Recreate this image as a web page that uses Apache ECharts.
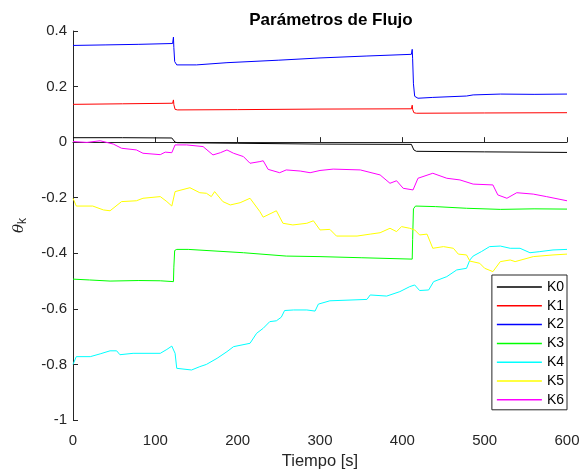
<!DOCTYPE html>
<html><head><meta charset="utf-8">
<script src="https://cdn.jsdelivr.net/npm/echarts@6/dist/echarts.min.js"></script>
<style>html,body{margin:0;padding:0;background:#fff}#c{width:582px;height:470px}</style>
</head><body><div id="c"></div>
<script>
const names = ['K0','K1','K2','K3','K4','K5','K6'];
const colors = ['#000000','#ff0000','#0000ff','#00ff00','#00ffff','#ffff00','#ff00ff'];
const xTicks = [0,100,200,300,400,500,600];
const yTicks = [-1,-0.8,-0.6,-0.4,-0.2,0,0.2,0.4];

const k0T = [0,60,120,122,124,127,200,300,411,412,414,417,500,600];
const k0V = [0.016,0.016,0.015,0.014,0.0,-0.002,-0.004,-0.007,-0.008,-0.010,-0.028,-0.033,-0.035,-0.037];

const k1T = [0,60,121,122,122.5,124,127,200,300,411,412,412.5,414,417,500,600];
const k1V = [0.136,0.138,0.140,0.152,0.135,0.118,0.116,0.117,0.119,0.120,0.133,0.118,0.106,0.104,0.105,0.106];

const k2T = [0,40,80,121,122,122.5,123.5,126,150,187,250,300,357,411,412,412.5,413.5,415,419,437,478,486,519,560,600];
const k2V = [0.348,0.350,0.352,0.355,0.378,0.34,0.29,0.278,0.278,0.286,0.295,0.303,0.310,0.316,0.334,0.30,0.21,0.165,0.158,0.161,0.166,0.170,0.173,0.172,0.173];

const k3T = [0,20,45,80,106,122,122.5,123.5,126,140,207,259,300,350,412,412.5,413.5,416,440,478,519,560,600];
const k3V = [-0.493,-0.496,-0.500,-0.498,-0.499,-0.502,-0.45,-0.39,-0.386,-0.386,-0.398,-0.410,-0.412,-0.416,-0.421,-0.35,-0.24,-0.230,-0.232,-0.238,-0.242,-0.240,-0.241];

const k4T = [0,4,21,33,45,53,57,73,106,114,120,124,126,144,154,162,175,187,195,215,223,231,239,247,253,257,268,284,294,298,312,357,361,381,397,409,415,421,432,438,454,466,478,482,486,496,506,519,531,543,555,567,583,600];
const k4V = [-0.800,-0.772,-0.772,-0.762,-0.751,-0.751,-0.765,-0.760,-0.760,-0.746,-0.734,-0.760,-0.814,-0.820,-0.808,-0.800,-0.778,-0.754,-0.736,-0.724,-0.688,-0.670,-0.646,-0.643,-0.630,-0.606,-0.604,-0.604,-0.608,-0.583,-0.571,-0.566,-0.550,-0.554,-0.538,-0.520,-0.514,-0.534,-0.532,-0.502,-0.484,-0.460,-0.454,-0.424,-0.410,-0.394,-0.376,-0.374,-0.382,-0.382,-0.398,-0.394,-0.388,-0.386];

const k5T = [0,4,24,37,45,59,77,85,106,114,120,124,142,154,162,168,172,182,191,203,215,227,231,247,255,267,284,292,300,312,320,345,361,373,385,393,399,409,415,421,430,437,450,462,468,478,482,494,500,510,519,531,537,559,583,600];
const k5V = [-0.202,-0.230,-0.230,-0.244,-0.247,-0.214,-0.211,-0.202,-0.196,-0.214,-0.230,-0.178,-0.164,-0.182,-0.184,-0.196,-0.178,-0.214,-0.226,-0.218,-0.202,-0.250,-0.270,-0.247,-0.292,-0.298,-0.292,-0.283,-0.316,-0.314,-0.338,-0.338,-0.331,-0.326,-0.310,-0.322,-0.304,-0.310,-0.316,-0.334,-0.331,-0.382,-0.376,-0.382,-0.403,-0.406,-0.428,-0.436,-0.454,-0.466,-0.430,-0.424,-0.430,-0.412,-0.406,-0.403];

const k6T = [0,17,33,49,59,77,85,106,112,120,124,138,158,170,179,187,195,207,215,227,231,237,251,259,276,288,300,316,349,373,385,393,401,413,419,437,454,470,486,510,516,527,539,559,575,600];
const k6V = [0.002,-0.001,0.005,-0.007,-0.022,-0.028,-0.040,-0.045,-0.036,-0.038,-0.010,-0.010,-0.016,-0.046,-0.038,-0.028,-0.040,-0.052,-0.076,-0.070,-0.067,-0.098,-0.110,-0.100,-0.104,-0.110,-0.102,-0.097,-0.100,-0.118,-0.148,-0.139,-0.166,-0.172,-0.130,-0.112,-0.130,-0.136,-0.151,-0.154,-0.190,-0.202,-0.182,-0.187,-0.196,-0.211];

const allT = [k0T,k1T,k2T,k3T,k4T,k5T,k6T];
const allV = [k0V,k1V,k2V,k3V,k4V,k5V,k6V];

const axisColor = '#262626';
const FONT = 'Liberation Sans, Arial, sans-serif';
const chart = echarts.init(document.getElementById('c'), null, {renderer:'canvas'});
chart.setOption({
  backgroundColor:'#ffffff',
  animation:false,
  title:{
    text:'Parámetros de Flujo', left:326, top:7, textAlign:'center',
    textStyle:{fontFamily:FONT, fontSize:17, fontWeight:'bold', color:'#000'}
  },
  grid:{left:73, right:15, top:31, bottom:50, containLabel:false, outerBoundsMode:'none'},
  legend:{
    data:names, orient:'vertical', right:15, top:275,
    icon:'rect', itemWidth:45, itemHeight:1.5, itemGap:4.8,
    padding:[5,3,3,5],
    borderColor:axisColor, borderWidth:1, backgroundColor:'#fff',
    textStyle:{fontFamily:FONT, fontSize:14, color:'#000', lineHeight:14}
  },
  xAxis:{
    type:'value', min:xTicks[0], max:xTicks[xTicks.length-1], interval:100,
    name:'Tiempo [s]', nameLocation:'middle', nameGap:31,
    nameTextStyle:{fontFamily:FONT, fontSize:16.5, color:axisColor},
    axisLine:{lineStyle:{color:axisColor, width:1}},
    axisTick:{inside:true, length:5, lineStyle:{color:axisColor}},
    axisLabel:{fontFamily:FONT, fontSize:15, color:axisColor, margin:13},
    splitLine:{show:false}
  },
  yAxis:{
    type:'value', min:yTicks[0], max:yTicks[yTicks.length-1], interval:0.2,
    name:'{a|θ}{b|k}', nameLocation:'middle', nameGap:44,
    nameTextStyle:{
      rich:{
        a:{fontFamily:'DejaVu Serif, serif', fontStyle:'italic', fontSize:15, color:axisColor},
        b:{fontFamily:FONT, fontSize:12, color:axisColor, padding:[8,0,0,0]}
      }
    },
    axisLine:{show:true, lineStyle:{color:axisColor, width:1}},
    axisTick:{show:true, inside:true, length:5, lineStyle:{color:axisColor}},
    axisLabel:{fontFamily:FONT, fontSize:15, color:axisColor, margin:6,
      formatter:function(v){return String(+v.toFixed(1));}},
    splitLine:{show:false}
  },
  series: names.map(function(n,i){
    return {
      name:n, type:'line', showSymbol:false, symbol:'none',
      lineStyle:{color:colors[i], width:1}, itemStyle:{color:colors[i]},
      data: allT[i].map(function(t,j){return [t, allV[i][j]];})
    };
  })
});
</script></body></html>
